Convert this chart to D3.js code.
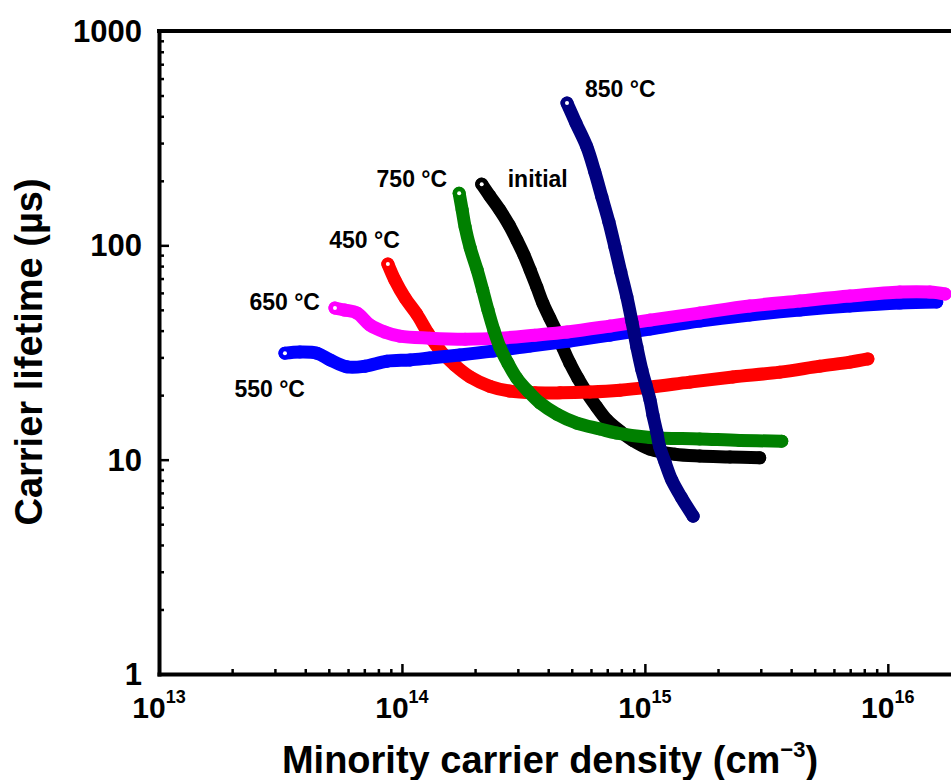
<!DOCTYPE html>
<html>
<head>
<meta charset="utf-8">
<script src="https://cdn.jsdelivr.net/npm/d3@7"></script>
<style>
  body { margin: 0; background: #fff; }
  text { font-family: "Liberation Sans", Arial, Helvetica, sans-serif; font-weight: bold; fill: #000; }
</style>
</head>
<body>
<svg id="chart" width="951" height="780"></svg>
<script>
// ---------------- DATA ----------------
const xDomain = [1e13, 1.82e16];
const yDomain = [1, 1000];
const xMajorTicks = [1e13, 1e14, 1e15, 1e16];
const xTickExponents = ["13", "14", "15", "16"];
const yMajorTicks = [1, 10, 100, 1000];
const yTickLabels = ["1", "10", "100", "1000"];

const seriesNames = ["initial", "450 °C", "550 °C", "650 °C", "750 °C", "850 °C"];
const seriesColors = ["#000000", "#ff0000", "#0000ff", "#ff00ff", "#008000", "#000080"];

const initialX = [2.13e14, 2.30e14, 2.53e14, 2.76e14, 2.97e14, 3.18e14, 3.37e14, 3.59e14, 3.80e14, 4.06e14, 4.35e14, 4.60e14, 4.91e14, 5.30e14, 5.77e14, 6.34e14, 6.98e14, 7.89e14, 8.93e14, 1.05e15, 1.33e15, 1.68e15, 2.24e15, 2.97e15];
const initialY = [193, 170, 146, 124.4, 105.9, 90.1, 76.7, 63.9, 53.8, 45.8, 39.0, 33.2, 28.2, 24.0, 20.5, 17.6, 15.3, 13.6, 12.3, 11.2, 10.6, 10.4, 10.3, 10.2];

const t450X = [8.75e13, 9.35e13, 1.03e14, 1.15e14, 1.28e14, 1.43e14, 1.65e14, 1.91e14, 2.30e14, 2.78e14, 3.52e14, 4.47e14, 5.94e14, 7.89e14, 1.05e15, 1.53e15, 2.30e15, 3.59e15, 5.25e15, 6.98e15, 8.28e15];
const t450Y = [81.8, 68.9, 56.8, 47.8, 39.0, 32.5, 27.6, 24.3, 22.0, 20.9, 20.5, 20.5, 20.7, 21.1, 21.8, 23.0, 24.3, 25.6, 27.3, 28.5, 29.5];

const t550X = [3.30e13, 3.80e13, 4.47e13, 5.06e13, 5.94e13, 7.04e13, 8.67e13, 1.08e14, 1.30e14, 1.73e14, 2.37e14, 3.37e14, 4.91e14, 7.18e14, 1.05e15, 1.68e15, 2.70e15, 4.34e15, 6.98e15, 1.12e16, 1.59e16];
const t550Y = [31.4, 31.8, 31.4, 29.2, 27.1, 27.3, 28.8, 29.2, 29.8, 30.8, 32.1, 33.9, 35.8, 38.1, 40.7, 44.3, 47.3, 49.9, 52.1, 53.8, 54.4];

const t650X = [5.30e13, 5.82e13, 6.53e13, 7.38e13, 8.51e13, 9.81e13, 1.30e14, 1.82e14, 2.53e14, 3.52e14, 4.78e14, 7.18e14, 1.05e15, 1.68e15, 2.70e15, 4.34e15, 6.98e15, 1.12e16, 1.49e16, 1.72e16];
const t650Y = [51.0, 49.9, 48.3, 42.5, 39.4, 37.7, 36.9, 36.5, 36.9, 38.1, 39.4, 42.0, 44.8, 48.3, 52.1, 55.0, 58.0, 60.5, 60.5, 59.3];

const t750X = [1.72e14, 1.77e14, 1.82e14, 1.91e14, 2.04e14, 2.15e14, 2.26e14, 2.39e14, 2.53e14, 2.73e14, 2.97e14, 3.30e14, 3.70e14, 4.35e14, 5.25e14, 6.53e14, 7.67e14, 1.05e15, 1.68e15, 2.46e15, 3.66e15];
const t750Y = [175, 146, 121.7, 97.1, 76.7, 61.8, 49.9, 40.2, 33.5, 28.2, 24.0, 20.9, 18.4, 16.3, 14.8, 13.9, 13.3, 12.7, 12.5, 12.3, 12.2];

const t850X = [4.78e14, 5.20e14, 5.77e14, 6.22e14, 6.65e14, 7.11e14, 7.53e14, 7.96e14, 8.43e14, 8.85e14, 9.27e14, 9.72e14, 1.01e15, 1.05e15, 1.08e15, 1.12e15, 1.15e15, 1.21e15, 1.29e15, 1.41e15, 1.58e15];
const t850Y = [461, 372, 288, 220, 168, 128.5, 98.2, 75.0, 57.4, 43.9, 33.5, 26.2, 22.3, 19.0, 16.1, 13.4, 11.5, 9.75, 8.03, 6.69, 5.45];

const xTitle = "Minority carrier density (cm";
const xTitleSup = "\u22123";
const yTitle = "Carrier lifetime (\u00b5s)";

// ---------------- DRAWING ----------------
const seriesX = [initialX, t450X, t550X, t650X, t750X, t850X];
const seriesY = [initialY, t450Y, t550Y, t650Y, t750Y, t850Y];

const svg = d3.select("#chart");
const plot = { left: 159, right: 951, top: 31, bottom: 674 };

const x = d3.scaleLog().domain(xDomain).range([plot.left, plot.right]);
const y = d3.scaleLog().domain(yDomain).range([plot.bottom, plot.top]);

function minorTicks(domain) {
  const out = [];
  const lo = Math.floor(Math.log10(domain[0])), hi = Math.ceil(Math.log10(domain[1]));
  for (let e = lo; e < hi; e++) {
    for (let m = 2; m <= 9; m++) {
      const v = m * Math.pow(10, e);
      if (v > domain[0] && v < domain[1]) out.push(v);
    }
  }
  return out;
}

svg.append("defs").append("clipPath").attr("id", "clip")
  .append("rect").attr("x", plot.left).attr("y", plot.top)
  .attr("width", plot.right - plot.left).attr("height", plot.bottom - plot.top);

// series
const line = d3.line()
  .x(d => x(d[0])).y(d => y(d[1]))
  .curve(d3.curveCatmullRom.alpha(0.5));

const gSeries = svg.append("g").attr("clip-path", "url(#clip)");
seriesNames.forEach((name, i) => {
  const pts = seriesX[i].map((v, j) => [v, seriesY[i][j]]);
  const g = gSeries.append("g");
  g.append("path").datum(pts)
    .attr("d", line)
    .attr("fill", "none")
    .attr("stroke", seriesColors[i])
    .attr("stroke-width", 13)
    .attr("stroke-linecap", "round")
    .attr("stroke-linejoin", "round");
  g.selectAll("circle.m").data(pts).join("circle")
    .attr("class", "m")
    .attr("cx", d => x(d[0])).attr("cy", d => y(d[1]))
    .attr("r", 6.5)
    .attr("fill", seriesColors[i]);
  g.append("circle")
    .attr("cx", x(pts[0][0])).attr("cy", y(pts[0][1]))
    .attr("r", 2).attr("fill", "#fff");
});

// axes
const axisW = 4;
const gx = svg.append("g").attr("transform", `translate(0,${plot.bottom})`);
gx.call(d3.axisBottom(x).tickValues(xMajorTicks).tickSize(-10).tickSizeOuter(0).tickFormat(""));
gx.call(g => g.selectAll(".tick line").attr("stroke-width", 2.5));
const gxm = svg.append("g").attr("transform", `translate(0,${plot.bottom})`);
gxm.call(d3.axisBottom(x).tickValues(minorTicks(xDomain)).tickSize(-5).tickSizeOuter(0).tickFormat(""));
gxm.select(".domain").remove();
gxm.selectAll(".tick line").attr("stroke-width", 2.5);
gx.select(".domain").attr("stroke-width", axisW).attr("stroke-linecap", "square");

const gy = svg.append("g").attr("transform", `translate(${plot.left},0)`);
gy.call(d3.axisLeft(y).tickValues(yMajorTicks).tickSize(-10).tickSizeOuter(0).tickFormat(""));
gy.selectAll(".tick line").attr("stroke-width", 2.5);
gy.select(".domain").attr("stroke-width", axisW).attr("stroke-linecap", "square");
const gym = svg.append("g").attr("transform", `translate(${plot.left},0)`);
gym.call(d3.axisLeft(y).tickValues(minorTicks(yDomain)).tickSize(-5).tickSizeOuter(0).tickFormat(""));
gym.select(".domain").remove();
gym.selectAll(".tick line").attr("stroke-width", 2.5);

// top frame line
svg.append("line")
  .attr("x1", x.range()[0]).attr("x2", x.range()[1])
  .attr("y1", y.range()[1]).attr("y2", y.range()[1])
  .attr("stroke", "#000").attr("stroke-width", axisW).attr("stroke-linecap", "square");

// tick labels
xMajorTicks.forEach((v, i) => {
  const t = svg.append("text")
    .attr("x", x(v)).attr("y", plot.bottom + 44)
    .attr("text-anchor", "middle")
    .style("font-size", "30px");
  t.append("tspan").text("10");
  t.append("tspan").attr("dy", -15).style("font-size", "18px").text(xTickExponents[i]);
});
yMajorTicks.forEach((v, i) => {
  svg.append("text")
    .attr("x", plot.left - 17).attr("y", y(v))
    .attr("dy", "0.36em")
    .attr("text-anchor", "end")
    .style("font-size", "31px")
    .text(yTickLabels[i]);
});

// axis titles
const xt = svg.append("text")
  .attr("x", 550).attr("y", 773)
  .attr("text-anchor", "middle")
  .style("font-size", "38px");
xt.append("tspan").text(xTitle);
xt.append("tspan").attr("dy", -16).style("font-size", "22px").text(xTitleSup);
xt.append("tspan").attr("dy", 16).text(")");

svg.append("text")
  .attr("transform", "translate(42,352) rotate(-90)")
  .attr("text-anchor", "middle")
  .style("font-size", "38px")
  .text(yTitle);

// series labels, positioned relative to each series' first point
const labelOffsets = [
  { dx: 26, dy: 3, anchor: "start" },   // initial
  { dx: 12, dy: -16, anchor: "end" },   // 450
  { dx: 20, dy: 44, anchor: "end" },    // 550
  { dx: -15, dy: 2, anchor: "end" },    // 650
  { dx: -12, dy: -6, anchor: "end" },   // 750
  { dx: 18, dy: -6, anchor: "start" }   // 850
];
seriesNames.forEach((name, i) => {
  const o = labelOffsets[i];
  svg.append("text")
    .attr("x", x(seriesX[i][0]) + o.dx)
    .attr("y", y(seriesY[i][0]) + o.dy)
    .attr("text-anchor", o.anchor)
    .style("font-size", "23px")
    .text(name);
});
</script>
</body>
</html>
